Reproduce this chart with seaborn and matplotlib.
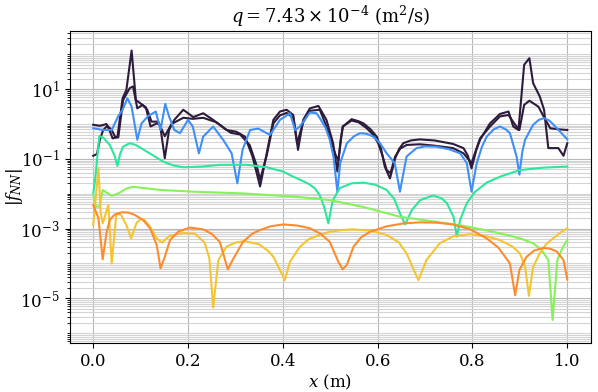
import numpy as np
import pandas as pd
import seaborn as sns
import matplotlib.pyplot as plt
from matplotlib.ticker import FixedLocator, NullFormatter

# values: x positions and log10(|f_NN|)
dark1_x = [0, 0.014, 0.028, 0.034, 0.041, 0.051, 0.062, 0.070, 0.081, 0.090, 0.101, 0.111,
           0.121, 0.134, 0.141, 0.151, 0.160, 0.171, 0.190, 0.211, 0.232, 0.253, 0.281, 0.302,
           0.320, 0.336, 0.352, 0.366, 0.380, 0.394, 0.408, 0.422, 0.432, 0.443, 0.457, 0.475,
           0.492, 0.506, 0.515, 0.522, 0.527, 0.545, 0.560, 0.570, 0.585, 0.598, 0.607, 0.615,
           0.626, 0.637, 0.645, 0.654, 0.670, 0.689, 0.720, 0.759, 0.781, 0.790, 0.798, 0.808,
           0.816, 0.837, 0.858, 0.876, 0.886, 0.897, 0.909, 0.920, 0.928, 0.942, 0.951, 0.960,
           0.981, 0.992, 1.0]
dark1_log = [-0.02, -0.05, 0.0, -0.17, -0.41, -0.38, 0.74, 0.98, 2.11, 0.69, 0.58, 0.48,
             -0.07, 0.02, -0.02, -0.98, -0.17, 0.12, 0.41, 0.20, 0.31, 0.12, -0.17, -0.22,
             -0.36, -0.93, -1.79, -0.84, 0.12, 0.36, 0.41, 0.26, -0.74, 0.12, 0.45, 0.52,
             0.12, -0.55, -1.36, -0.45, -0.07, 0.14, 0.08, 0.02, -0.15, -0.36, -0.70, -1.22,
             -1.56, -0.98, -0.72, -0.55, -0.47, -0.44, -0.47, -0.57, -0.69, -0.90, -1.27, -0.75,
             -0.45, 0.02, 0.29, 0.36, -0.07, -0.17, 1.70, 1.89, 1.17, 0.79, 0.41, -0.69,
             -0.69, -0.91, -0.55]

dark2_x = [0, 0.008, 0.014, 0.021, 0.030, 0.039, 0.046, 0.053, 0.063, 0.077, 0.084, 0.093,
           0.104, 0.114, 0.123, 0.137, 0.151, 0.165, 0.190, 0.210, 0.232, 0.260, 0.290, 0.310,
           0.330, 0.345, 0.352, 0.366, 0.380, 0.394, 0.408, 0.422, 0.430, 0.443, 0.457, 0.478,
           0.492, 0.510, 0.517, 0.526, 0.545, 0.560, 0.577, 0.590, 0.601, 0.610, 0.619, 0.627,
           0.637, 0.648, 0.661, 0.689, 0.720, 0.759, 0.781, 0.798, 0.808, 0.816, 0.837, 0.858,
           0.876, 0.890, 0.899, 0.909, 0.920, 0.939, 0.950, 0.964, 0.981, 1.0]
dark2_log = [-0.91, -0.86, -0.45, -0.17, -0.05, -0.17, -0.36, -0.38, 0.69, 1.03, 1.08, 0.45,
             0.55, 0.41, 0.07, 0.07, -0.35, 0.0, 0.18, 0.15, 0.18, 0.05, -0.25, -0.30,
             -0.60, -1.20, -1.60, -0.90, 0.02, 0.25, 0.32, 0.18, -0.55, 0.05, 0.38, 0.41,
             -0.07, -0.84, -1.05, -0.07, 0.10, 0.05, -0.12, -0.30, -0.55, -0.90, -1.32, -1.41,
             -0.93, -0.70, -0.60, -0.58, -0.62, -0.69, -0.84, -1.12, -0.72, -0.41, -0.07, 0.22,
             0.26, -0.02, -0.17, 0.55, 0.67, 0.50, 0.22, -0.12, -0.15, -0.17]

blue_x = [0, 0.021, 0.039, 0.053, 0.062, 0.072, 0.081, 0.093, 0.102, 0.116, 0.132, 0.142,
          0.152, 0.160, 0.171, 0.183, 0.200, 0.210, 0.223, 0.232, 0.253, 0.274, 0.292, 0.304,
          0.315, 0.331, 0.348, 0.373, 0.394, 0.415, 0.426, 0.436, 0.457, 0.471, 0.478, 0.490,
          0.499, 0.507, 0.515, 0.521, 0.535, 0.550, 0.563, 0.577, 0.591, 0.605, 0.619, 0.636,
          0.647, 0.661, 0.682, 0.700, 0.724, 0.750, 0.774, 0.788, 0.798, 0.809, 0.820, 0.830,
          0.845, 0.858, 0.870, 0.879, 0.893, 0.899, 0.905, 0.911, 0.928, 0.940, 0.951, 0.962,
          0.971, 0.985, 1.0]
blue_log = [-0.12, -0.17, -0.17, 0.23, 0.41, 0.74, 0.50, -0.45, 0.02, 0.23, 0.36, -0.17,
            0.58, 0.22, -0.17, -0.26, 0.12, -0.07, -0.84, -0.36, -0.07, -0.45, -0.84, -1.70,
            -0.74, -0.17, -0.13, -0.31, 0.12, 0.31, -0.17, -0.07, 0.33, 0.31, 0.17, -0.10,
            -0.45, -0.95, -1.94, -1.12, -0.55, -0.35, -0.26, -0.28, -0.36, -0.55, -0.84, -1.12,
            -1.94, -0.93, -0.69, -0.64, -0.65, -0.72, -0.84, -1.12, -1.94, -1.12, -0.65, -0.36,
            -0.15, -0.07, -0.15, -0.26, -0.93, -1.45, -0.80, -0.45, -0.02, 0.12, 0.17, 0.10,
            -0.02, -0.22, -0.44]

teal_x = [0, 0.004, 0.013, 0.022, 0.035, 0.045, 0.051, 0.057, 0.063, 0.077, 0.090, 0.113,
          0.130, 0.148, 0.170, 0.190, 0.230, 0.267, 0.324, 0.366, 0.400, 0.422, 0.440, 0.455,
          0.468, 0.478, 0.487, 0.496, 0.505, 0.520, 0.545, 0.570, 0.595, 0.619, 0.635, 0.647,
          0.658, 0.672, 0.690, 0.717, 0.735, 0.746, 0.760, 0.767, 0.774, 0.788, 0.805, 0.830,
          0.860, 0.900, 0.950, 1.0]
teal_log = [-2.0, -1.60, -0.34, -0.40, -0.60, -0.90, -1.20, -0.85, -0.65, -0.55, -0.60, -0.79,
            -0.93, -1.08, -1.19, -1.24, -1.22, -1.17, -1.17, -1.24, -1.36, -1.51, -1.62, -1.72,
            -1.85, -2.05, -2.37, -2.85, -2.20, -1.84, -1.70, -1.68, -1.74, -1.89, -2.15, -2.56,
            -2.88, -2.47, -2.18, -2.05, -2.13, -2.27, -2.66, -3.23, -2.75, -2.27, -1.95, -1.68,
            -1.50, -1.32, -1.25, -1.22]

green_x = [0, 0.006, 0.013, 0.020, 0.030, 0.039, 0.053, 0.070, 0.084, 0.110, 0.141, 0.211,
           0.316, 0.422, 0.499, 0.570, 0.647, 0.710, 0.773, 0.830, 0.872, 0.905, 0.928, 0.945,
           0.960, 0.969, 0.979, 0.990, 1.0]
green_log = [-2.03, -2.37, -2.37, -1.89, -1.98, -2.06, -1.99, -1.85, -1.80, -1.84, -1.89, -1.94,
             -1.99, -2.08, -2.18, -2.38, -2.66, -2.78, -2.90, -3.05, -3.18, -3.30, -3.42, -3.60,
             -3.90, -5.62, -3.90, -3.55, -3.33]

yellow_x = [0, 0.011, 0.016, 0.020, 0.032, 0.039, 0.049, 0.059, 0.070, 0.080, 0.091, 0.100,
            0.108, 0.120, 0.134, 0.145, 0.160, 0.190, 0.215, 0.235, 0.245, 0.253, 0.264, 0.281,
            0.300, 0.320, 0.350, 0.370, 0.380, 0.394, 0.404, 0.415, 0.436, 0.455, 0.478, 0.499,
            0.525, 0.549, 0.585, 0.619, 0.645, 0.661, 0.686, 0.703, 0.731, 0.760, 0.795, 0.830,
            0.858, 0.885, 0.900, 0.911, 0.919, 0.928, 0.942, 0.955, 0.970, 0.985, 1.0]
yellow_log = [-2.90, -1.27, -2.56, -2.85, -2.32, -4.0, -2.56, -2.61, -2.90, -3.28, -2.85, -2.72,
              -2.75, -2.95, -3.28, -3.40, -3.22, -3.12, -3.15, -3.40, -3.85, -5.26, -3.90, -3.52,
              -3.40, -3.36, -3.45, -3.65, -3.81, -4.19, -4.48, -3.95, -3.52, -3.30, -3.18, -3.09,
              -3.04, -3.02, -3.06, -3.18, -3.40, -3.71, -4.48, -3.90, -3.42, -3.22, -3.16, -3.22,
              -3.33, -3.52, -3.71, -4.09, -4.93, -4.09, -3.71, -3.45, -3.28, -3.12, -2.99]

orange_x = [0, 0.011, 0.020, 0.028, 0.035, 0.045, 0.060, 0.075, 0.088, 0.105, 0.120, 0.134,
            0.142, 0.151, 0.162, 0.180, 0.204, 0.232, 0.250, 0.267, 0.284, 0.294, 0.316, 0.335,
            0.352, 0.375, 0.401, 0.430, 0.457, 0.480, 0.499, 0.517, 0.526, 0.535, 0.549, 0.565,
            0.584, 0.620, 0.655, 0.689, 0.725, 0.759, 0.795, 0.830, 0.855, 0.879, 0.890, 0.899,
            0.914, 0.930, 0.949, 0.965, 0.978, 0.992, 1.0]
orange_log = [-2.32, -2.70, -3.88, -3.13, -2.75, -2.60, -2.53, -2.54, -2.61, -2.75, -2.99, -3.47,
              -4.14, -3.81, -3.33, -3.08, -2.97, -3.02, -3.15, -3.38, -4.17, -3.90, -3.38, -3.15,
              -3.04, -2.93, -2.88, -2.91, -2.99, -3.15, -3.38, -3.95, -4.17, -4.04, -3.52, -3.25,
              -3.09, -2.93, -2.85, -2.82, -2.83, -2.88, -3.02, -3.28, -3.55, -4.00, -4.91, -4.19,
              -3.81, -3.63, -3.55, -3.58, -3.66, -3.90, -4.46]

series = [
    ("dark1", dark1_x, dark1_log, "#2d1b3c"),
    ("dark2", dark2_x, dark2_log, "#2d1b3c"),
    ("blue", blue_x, blue_log, "#3f8ff5"),
    ("teal", teal_x, teal_log, "#2ee59c"),
    ("green", green_x, green_log, "#86f159"),
    ("yellow", yellow_x, yellow_log, "#f4c531"),
    ("orange", orange_x, orange_log, "#fd8c2f"),
]

frames = []
for name, xs, ls, _ in series:
    frames.append(pd.DataFrame({"x": xs, "f": 10.0 ** np.array(ls), "series": name}))
df = pd.concat(frames, ignore_index=True)
palette = {name: c for name, _, _, c in series}

plt.rcParams["font.family"] = ["DejaVu Serif"]
plt.rcParams["mathtext.fontset"] = "dejavuserif"

fig = plt.figure(figsize=(5.98, 3.92), dpi=100)
ax = fig.add_axes([69.5 / 598, (392 - 343.3) / 392, (591 - 69.5) / 598, (343.3 - 31) / 392])

sns.lineplot(data=df, x="x", y="f", hue="series", hue_order=[s[0] for s in series],
             palette=palette, estimator=None, sort=False, legend=False, linewidth=1.5, ax=ax)

ax.set_yscale("log")
ax.set_xlim(-0.05, 1.05)
ax.set_ylim(10 ** -6.29, 10 ** 2.67)
ax.set_xticks([0.0, 0.2, 0.4, 0.6, 0.8, 1.0])
ax.yaxis.set_major_locator(FixedLocator([1e-5, 1e-3, 1e-1, 1e1]))
minor = [k * 10.0 ** e for e in range(-7, 3) for k in range(1, 10)]
ax.yaxis.set_minor_locator(FixedLocator(minor))
ax.yaxis.set_minor_formatter(NullFormatter())
ax.tick_params(labelsize=12)

ax.grid(True, which="major", color="#b8b8b8", linewidth=0.8)
ax.grid(True, which="minor", axis="y", color="#d4d4d4", linewidth=0.8)

ax.set_xlabel("$x$ (m)", fontsize=12, labelpad=2)
ax.set_ylabel("$|f_{NN}|$", fontsize=12)
ax.yaxis.set_label_coords(-0.085, 0.5)
ax.set_title("$q = 7.43 \\times 10^{-4}$ (m$^2$/s)", fontsize=13)

fig.savefig("out.png", dpi=100)
